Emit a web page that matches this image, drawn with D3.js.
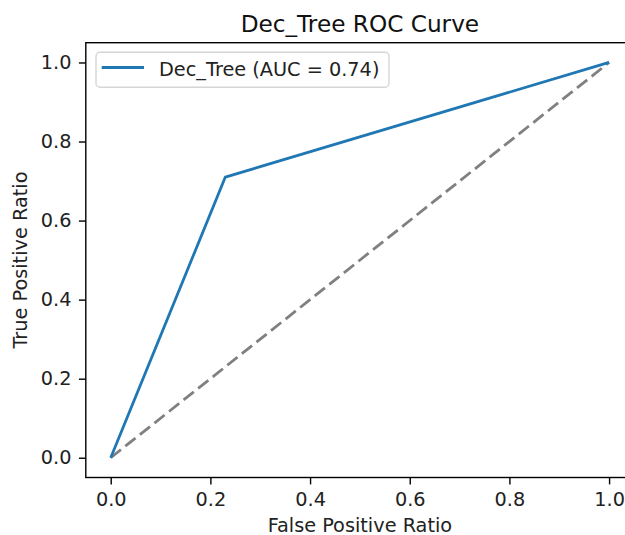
<!DOCTYPE html>
<html>
<head>
<meta charset="utf-8">
<script src="https://cdn.jsdelivr.net/npm/d3@7"></script>
<style>
  html, body { margin: 0; padding: 0; background: #fff; }
  svg { display: block; font-family: "DejaVu Sans", sans-serif; }
</style>
</head>
<body>
<svg id="chart" width="625" height="535"></svg>
<script>
// Data
const fpr = [0.0, 0.23, 1.0];
const tpr = [0.0, 0.71, 1.0];
const chanceX = [0.0, 1.0];
const chanceY = [0.0, 1.0];
const xTicks = [0.0, 0.2, 0.4, 0.6, 0.8, 1.0];
const yTicks = [0.0, 0.2, 0.4, 0.6, 0.8, 1.0];
const modelName = "Dec_Tree";
const aucValue = 0.74;

(function () {
const svg = d3.select("#chart");
const pLeft = 85.8, pRight = 634, pTop = 42.7, pBottom = 477.5;
const fs = 19.3;

const x = d3.scaleLinear().domain([-0.05, 1.05]).range([pLeft, pRight]);
const y = d3.scaleLinear().domain([-0.05, 1.05]).range([pBottom, pTop]);

const fmt = d3.format(".1f");

// Axes
const xAxis = d3.axisBottom(x).tickValues(xTicks).tickFormat(fmt).tickSize(6.9).tickPadding(8);
const yAxis = d3.axisLeft(y).tickValues(yTicks).tickFormat(fmt).tickSize(6.9).tickPadding(7.5);

const gx = svg.append("g").attr("transform", `translate(0,${pBottom})`).call(xAxis);
const gy = svg.append("g").attr("transform", `translate(${pLeft},0)`).call(yAxis);
[gx, gy].forEach(g => {
  g.select(".domain").remove();
  g.selectAll(".tick line").attr("stroke", "#000").attr("stroke-width", 1.4);
  g.selectAll(".tick text").attr("fill", "#222").style("font-size", fs + "px").style("font-family", "DejaVu Sans, sans-serif");
});

// Lines
const line = d3.line().x(d => x(d[0])).y(d => y(d[1]));
svg.append("path")
  .datum(chanceX.map((v, i) => [v, chanceY[i]]))
  .attr("d", line)
  .attr("fill", "none")
  .attr("stroke", "#808080")
  .attr("stroke-width", 2.8)
  .attr("stroke-dasharray", "13,5.6");

svg.append("path")
  .datum(fpr.map((v, i) => [v, tpr[i]]))
  .attr("d", line)
  .attr("fill", "none")
  .attr("stroke", "#1f77b4")
  .attr("stroke-width", 2.8)
  .attr("stroke-linejoin", "round");

// Spines
svg.append("rect")
  .attr("x", pLeft).attr("y", pTop)
  .attr("width", pRight - pLeft).attr("height", pBottom - pTop)
  .attr("fill", "none").attr("stroke", "#000").attr("stroke-width", 1.4);

// Title
svg.append("text")
  .attr("x", (pLeft + pRight) / 2).attr("y", 31.5)
  .attr("text-anchor", "middle")
  .style("font-size", "23.2px")
  .attr("fill", "#111")
  .text(`${modelName} ROC Curve`);

// Axis labels
svg.append("text")
  .attr("x", (pLeft + pRight) / 2).attr("y", 531.5)
  .attr("text-anchor", "middle")
  .style("font-size", fs + "px")
  .attr("fill", "#222")
  .text("False Positive Ratio");

svg.append("text")
  .attr("transform", `translate(27,${(pTop + pBottom) / 2}) rotate(-90)`)
  .attr("text-anchor", "middle")
  .style("font-size", fs + "px")
  .attr("fill", "#222")
  .text("True Positive Ratio");

// Legend
const lg = svg.append("g");
lg.append("rect")
  .attr("x", 96).attr("y", 52.3)
  .attr("width", 293).attr("height", 35)
  .attr("rx", 4).attr("ry", 4)
  .attr("fill", "#fff").attr("fill-opacity", 0.8)
  .attr("stroke", "#d6d6d6").attr("stroke-width", 1.4);
lg.append("line")
  .attr("x1", 101.7).attr("x2", 144)
  .attr("y1", 67.5).attr("y2", 67.5)
  .attr("stroke", "#1f77b4").attr("stroke-width", 2.8);
lg.append("text")
  .attr("x", 159).attr("y", 75.5)
  .style("font-size", fs + "px")
  .attr("fill", "#222")
  .text(`${modelName} (AUC = ${aucValue.toFixed(2)})`);
})();
</script>
</body>
</html>
